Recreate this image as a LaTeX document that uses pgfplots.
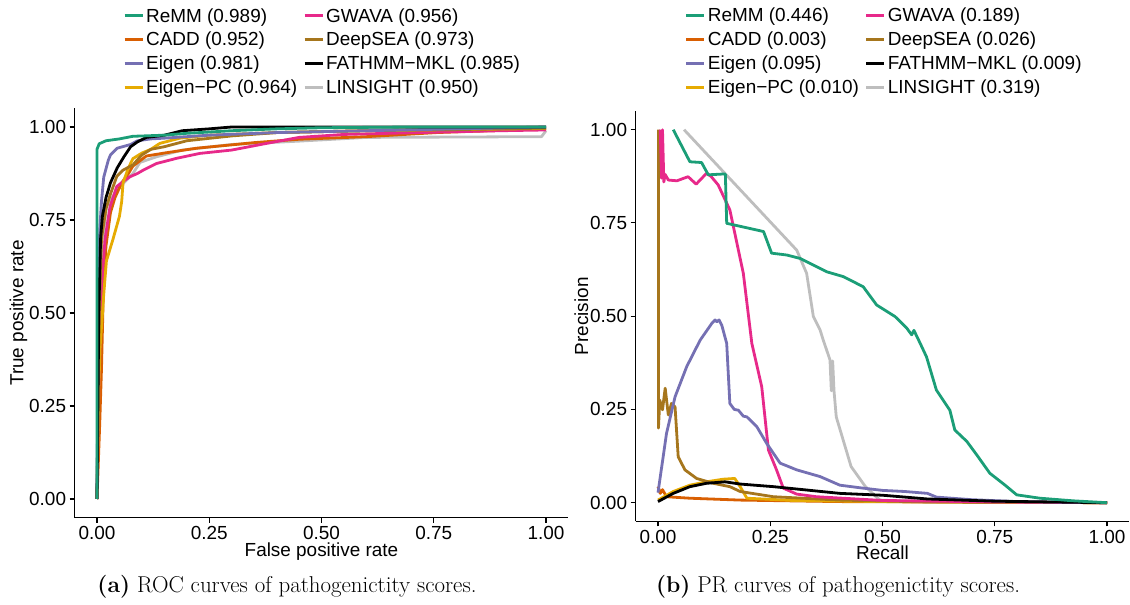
\documentclass[border=0pt]{standalone}
\usepackage{fontspec}
\setsansfont{Liberation Sans}
\usepackage{pgfplots}
\pgfplotsset{compat=1.18}
\definecolor{cReMM}{HTML}{1B9E77}
\definecolor{cCADD}{HTML}{D95F02}
\definecolor{cEigen}{HTML}{7570B3}
\definecolor{cEigenPC}{HTML}{E6AB02}
\definecolor{cGWAVA}{HTML}{E7298A}
\definecolor{cDeepSEA}{HTML}{A6761D}
\definecolor{cFATHMM}{HTML}{000000}
\definecolor{cLINSIGHT}{HTML}{BEBEBE}
\pgfplotsset{
  panel/.style={
    scale only axis, width=493.9bp,
    xmin=-0.05, xmax=1.05, ymin=-0.05, ymax=1.05,
    axis x line*=bottom, axis y line*=left,
    axis line style={line width=1.3bp, black},
    tick style={line width=1.1bp, black},
    tick align=outside, major tick length=5bp,
    xtick={0,0.25,0.5,0.75,1}, xticklabels={0.00,0.25,0.50,0.75,1.00},
    ytick={0,0.25,0.5,0.75,1}, yticklabels={0.00,0.25,0.50,0.75,1.00},
    ticklabel style={font=\sffamily\fontsize{19}{22}\selectfont},
    label style={font=\sffamily\fontsize{19}{22}\selectfont},
    xlabel style={yshift=4bp},
    ylabel shift=-5bp,
    every axis plot/.append style={line width=2.8bp, line join=round},
    clip=false,
    legend columns=2,
    legend cell align=left,
    legend style={draw=none, fill=none, inner sep=0pt, anchor=north west,
      font=\sffamily\fontsize{19}{22}\selectfont,
      /tikz/every even column/.append style={column sep=4bp},
      row sep=4.6bp},
    legend image code/.code={\draw[line width=3bp] (0bp,0bp) -- (18bp,0bp);},
  }
}
\begin{document}
\begin{tikzpicture}
\useasboundingbox (0,0) rectangle (1130bp,605bp);
% ---------------- ROC ----------------
\begin{axis}[panel, height=409.2bp, at={(74.55bp,87.4bp)}, anchor=south west,
  xlabel={False positive rate}, ylabel={True positive rate},
  legend style={at={(0.098,1.25)}}]
\addplot[cLINSIGHT, forget plot] coordinates {(0,0) (0.003,0.3) (0.006,0.5) (0.01,0.67) (0.021,0.786) (0.044,0.83) (0.06,0.85) (0.08,0.875) (0.096,0.905) (0.133,0.92) (0.19,0.938) (0.30,0.953) (0.45,0.962) (0.6,0.972) (0.99,0.974) (1,0.99)};
\addplot[cCADD, forget plot] coordinates {(0,0) (0.006,0.2) (0.01,0.35) (0.014,0.55) (0.02,0.68) (0.03,0.77) (0.04,0.81) (0.055,0.85) (0.07,0.875) (0.08,0.895) (0.11,0.922) (0.15,0.93) (0.222,0.943) (0.3,0.952) (0.35,0.958) (0.45,0.967) (0.6,0.974) (0.757,0.985) (1,0.995)};
\addplot[cGWAVA, forget plot] coordinates {(0,0) (0.004,0.3) (0.007,0.43) (0.012,0.6) (0.018,0.70) (0.029,0.786) (0.044,0.84) (0.06,0.855) (0.073,0.866) (0.09,0.875) (0.103,0.884) (0.133,0.902) (0.178,0.916) (0.229,0.929) (0.30,0.938) (0.378,0.956) (0.45,0.972) (0.55,0.98) (0.75,0.986) (0.9,0.99) (1,0.992)};
\addplot[cEigenPC, forget plot] coordinates {(0,0) (0.004,0.3) (0.007,0.41) (0.015,0.55) (0.021,0.64) (0.036,0.70) (0.05,0.76) (0.055,0.8) (0.058,0.85) (0.07,0.89) (0.08,0.915) (0.1,0.93) (0.12,0.94) (0.14,0.956) (0.185,0.97) (0.25,0.978) (0.4,0.985) (0.6,0.99) (1,0.996)};
\addplot[cDeepSEA, forget plot] coordinates {(0,0) (0.005,0.5) (0.01,0.7) (0.02,0.78) (0.03,0.82) (0.036,0.84) (0.044,0.867) (0.058,0.884) (0.08,0.898) (0.1,0.925) (0.12,0.94) (0.15,0.947) (0.2,0.963) (0.3,0.976) (0.4,0.985) (0.6,0.99) (0.8,0.993) (1,0.997)};
\addplot[cEigen, forget plot] coordinates {(0,0) (0.003,0.5) (0.006,0.72) (0.01,0.8) (0.015,0.865) (0.025,0.91) (0.03,0.925) (0.045,0.943) (0.06,0.948) (0.075,0.953) (0.09,0.963) (0.12,0.968) (0.15,0.97) (0.25,0.978) (0.4,0.985) (0.6,0.99) (0.8,0.995) (1,1)};
\addplot[cFATHMM, forget plot] coordinates {(0,0) (0.004,0.5) (0.008,0.7) (0.012,0.76) (0.02,0.81) (0.03,0.85) (0.045,0.89) (0.06,0.92) (0.075,0.947) (0.09,0.96) (0.11,0.972) (0.15,0.978) (0.19,0.99) (0.25,0.995) (0.3,1.0) (1,1)};
\addplot[cReMM, forget plot] coordinates {(0,0) (0,0.94) (0.005,0.955) (0.02,0.963) (0.05,0.968) (0.08,0.975) (0.15,0.978) (0.2,0.983) (0.3,0.99) (0.4,0.995) (0.5,0.998) (0.7,1) (1,1)};
\addlegendimage{cReMM}\addlegendentry{ReMM (0.989)}
\addlegendimage{cGWAVA}\addlegendentry{GWAVA (0.956)}
\addlegendimage{cCADD}\addlegendentry{CADD (0.952)}
\addlegendimage{cDeepSEA}\addlegendentry{DeepSEA (0.973)}
\addlegendimage{cEigen}\addlegendentry{Eigen (0.981)}
\addlegendimage{cFATHMM}\addlegendentry{FATHMM−MKL (0.985)}
\addlegendimage{cEigenPC}\addlegendentry{Eigen−PC (0.964)}
\addlegendimage{cLINSIGHT}\addlegendentry{LINSIGHT (0.950)}
\end{axis}
% ---------------- PR ----------------
\begin{axis}[panel, height=410.3bp, at={(635.55bp,83.65bp)}, anchor=south west,
  xlabel={Recall}, ylabel={Precision},
  legend style={at={(0.0995,1.256)}}]
\addplot[cLINSIGHT, forget plot] coordinates {(0.058,1.0) (0.309,0.677) (0.331,0.615) (0.346,0.499) (0.361,0.463) (0.368,0.436) (0.383,0.383) (0.386,0.30) (0.389,0.38) (0.392,0.30) (0.397,0.23) (0.43,0.097) (0.462,0.043) (0.494,0.007) (0.6,0.002) (1,0)};
\addplot[cCADD, forget plot] coordinates {(0,0.043) (0.005,0.025) (0.01,0.035) (0.019,0.016) (0.071,0.012) (0.183,0.007) (0.4,0.003) (1,0.0)};
\addplot[cEigenPC, forget plot] coordinates {(0,0.007) (0.034,0.03) (0.071,0.047) (0.108,0.056) (0.145,0.063) (0.171,0.065) (0.183,0.043) (0.198,0.012) (0.3,0.006) (0.5,0.003) (1,0)};
\addplot[cDeepSEA, forget plot] coordinates {(0.001,1.0) (0.001,0.2) (0.004,0.275) (0.01,0.249) (0.016,0.307) (0.023,0.235) (0.03,0.266) (0.038,0.257) (0.045,0.123) (0.06,0.088) (0.086,0.065) (0.123,0.052) (0.16,0.043) (0.183,0.03) (0.257,0.016) (0.405,0.007) (0.6,0.002) (1,0)};
\addplot[cGWAVA, forget plot] coordinates {(0.005,1.0) (0.008,0.87) (0.01,1.0) (0.013,0.86) (0.016,0.88) (0.023,0.865) (0.042,0.863) (0.067,0.874) (0.085,0.854) (0.108,0.883) (0.118,0.875) (0.134,0.852) (0.16,0.785) (0.19,0.615) (0.209,0.427) (0.231,0.311) (0.242,0.186) (0.246,0.141) (0.264,0.088) (0.279,0.039) (0.309,0.023) (0.353,0.016) (0.5,0.006) (0.75,0.002) (1,0.0)};
\addplot[cEigen, forget plot] coordinates {(0.0,0.027) (0.019,0.186) (0.038,0.284) (0.064,0.365) (0.094,0.436) (0.12,0.481) (0.127,0.49) (0.131,0.485) (0.136,0.49) (0.142,0.476) (0.153,0.427) (0.16,0.266) (0.17,0.25) (0.179,0.248) (0.19,0.232) (0.198,0.23) (0.22,0.204) (0.242,0.159) (0.272,0.106) (0.309,0.088) (0.361,0.07) (0.405,0.047) (0.45,0.04) (0.5,0.033) (0.55,0.03) (0.6,0.025) (0.62,0.015) (0.7,0.008) (0.8,0.003) (1,0)};
\addplot[cFATHMM, forget plot] coordinates {(0,0.003) (0.034,0.025) (0.071,0.043) (0.108,0.052) (0.149,0.056) (0.183,0.05) (0.257,0.043) (0.331,0.034) (0.405,0.025) (0.5,0.02) (0.6,0.01) (0.75,0.004) (1,0)};
\addplot[cReMM, forget plot] coordinates {(0.034,1.0) (0.071,0.914) (0.097,0.912) (0.112,0.879) (0.142,0.881) (0.15,0.881) (0.153,0.749) (0.235,0.727) (0.253,0.669) (0.287,0.664) (0.316,0.655) (0.376,0.619) (0.413,0.606) (0.457,0.579) (0.487,0.53) (0.528,0.499) (0.554,0.468) (0.565,0.45) (0.57,0.462) (0.584,0.427) (0.598,0.391) (0.62,0.302) (0.65,0.248) (0.661,0.195) (0.688,0.164) (0.71,0.128) (0.739,0.079) (0.773,0.047) (0.799,0.021) (0.851,0.012) (0.925,0.005) (1,0.0)};
\addlegendimage{cReMM}\addlegendentry{ReMM (0.446)}
\addlegendimage{cGWAVA}\addlegendentry{GWAVA (0.189)}
\addlegendimage{cCADD}\addlegendentry{CADD (0.003)}
\addlegendimage{cDeepSEA}\addlegendentry{DeepSEA (0.026)}
\addlegendimage{cEigen}\addlegendentry{Eigen (0.095)}
\addlegendimage{cFATHMM}\addlegendentry{FATHMM−MKL (0.009)}
\addlegendimage{cEigenPC}\addlegendentry{Eigen−PC (0.010)}
\addlegendimage{cLINSIGHT}\addlegendentry{LINSIGHT (0.319)}
\end{axis}
\node[anchor=base, font=\fontsize{23}{26}\selectfont] at (287bp,13bp) {\textbf{(a)} ROC curves of pathogenictity scores.};
\node[anchor=base, font=\fontsize{23}{26}\selectfont] at (838bp,13bp) {\textbf{(b)} PR curves of pathogenictity scores.};
\end{tikzpicture}
\end{document}
